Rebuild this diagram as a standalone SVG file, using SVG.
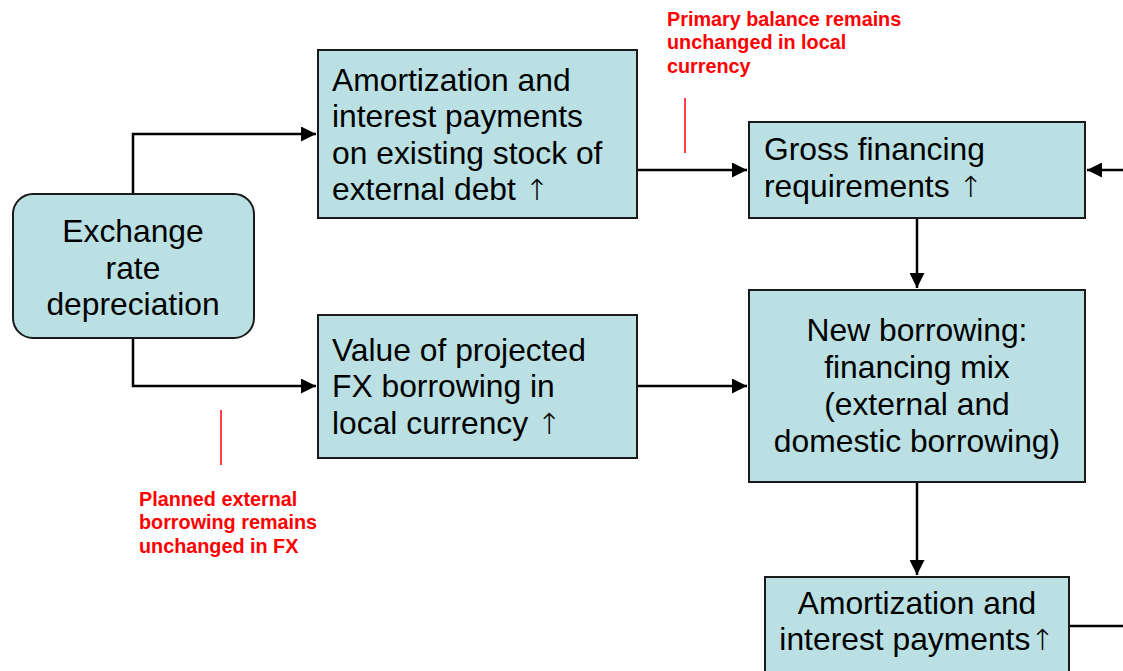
<svg xmlns="http://www.w3.org/2000/svg" width="1123" height="671" viewBox="0 0 1123 671">
<defs>
<style>
.box{fill:#BBE0E3;stroke:#1a1a1a;stroke-width:2}
.t{font-family:"Liberation Sans",Arial,sans-serif;font-size:31.8px;fill:#000}
.c{text-anchor:middle}
.up{font-family:"DejaVu Sans","Liberation Sans",sans-serif;font-weight:200;font-size:29px;fill:#000}
.r{font-family:"Liberation Sans",Arial,sans-serif;font-size:19.8px;font-weight:bold;fill:#FF0000}
.ln{fill:none;stroke:#000;stroke-width:2.5}
.red{stroke:#FF0000;stroke-width:1.5}
</style>
<marker id="a" viewBox="0 0 10 10" refX="10" refY="5" markerWidth="6" markerHeight="6" markerUnits="strokeWidth" orient="auto">
<path d="M0,0 L10,5 L0,10 z" fill="#000"/>
</marker>
</defs>
<rect width="1123" height="671" fill="#fff"/>
<g id="connectors">
<path class="ln" d="M133,194 V134 H316" marker-end="url(#a)"/>
<path class="ln" d="M133,338 V386 H316" marker-end="url(#a)"/>
<path class="ln" d="M637,170 H747" marker-end="url(#a)"/>
<path class="ln" d="M637,386 H747" marker-end="url(#a)"/>
<path class="ln" d="M1123,170 H1087" marker-end="url(#a)"/>
<path class="ln" d="M917,218 V288" marker-end="url(#a)"/>
<path class="ln" d="M917,482 V575" marker-end="url(#a)"/>
<path class="ln" d="M1069,626 H1123"/>
</g>
<g id="exchange">
<rect class="box" x="13" y="194" width="241" height="144" rx="20"/>
<text class="t c" x="133" y="242">Exchange</text>
<text class="t c" x="133" y="279">rate</text>
<text class="t c" x="133" y="315">depreciation</text>
</g>
<g id="amort-existing">
<rect class="box" x="318" y="50" width="319" height="168"/>
<text class="t" x="332" y="91">Amortization and</text>
<text class="t" x="332" y="127">interest payments</text>
<text class="t" x="332" y="164">on existing stock of</text>
<text class="t" x="332" y="200">external debt <tspan class="up">↑</tspan></text>
</g>
<g id="fx-value">
<rect class="box" x="318" y="315" width="319" height="143"/>
<text class="t" x="332" y="361">Value of projected</text>
<text class="t" x="332" y="397">FX borrowing in</text>
<text class="t" x="332" y="434">local currency <tspan class="up">↑</tspan></text>
</g>
<g id="gross">
<rect class="box" x="749" y="122" width="336" height="96"/>
<text class="t" x="764" y="160">Gross financing</text>
<text class="t" x="764" y="197">requirements <tspan class="up">↑</tspan></text>
</g>
<g id="new-borrowing">
<rect class="box" x="749" y="290" width="336" height="192"/>
<text class="t c" x="917" y="341">New borrowing:</text>
<text class="t c" x="917" y="378">financing mix</text>
<text class="t c" x="917" y="415">(external and</text>
<text class="t c" x="917" y="452">domestic borrowing)</text>
</g>
<g id="amort-new">
<rect class="box" x="765" y="577" width="304" height="100"/>
<text class="t c" x="917" y="614">Amortization and</text>
<text class="t c" x="917" y="650">interest payments<tspan class="up">↑</tspan></text>
</g>
<g id="note-primary">
<line class="red" x1="685" y1="98" x2="685" y2="153"/>
<text class="r" x="667" y="26">Primary balance remains</text>
<text class="r" x="667" y="49">unchanged in local</text>
<text class="r" x="667" y="73">currency</text>
</g>
<g id="note-planned">
<line class="red" x1="221" y1="410" x2="221" y2="465"/>
<text class="r" x="139" y="506">Planned external</text>
<text class="r" x="139" y="529">borrowing remains</text>
<text class="r" x="139" y="553">unchanged in FX</text>
</g>
</svg>
